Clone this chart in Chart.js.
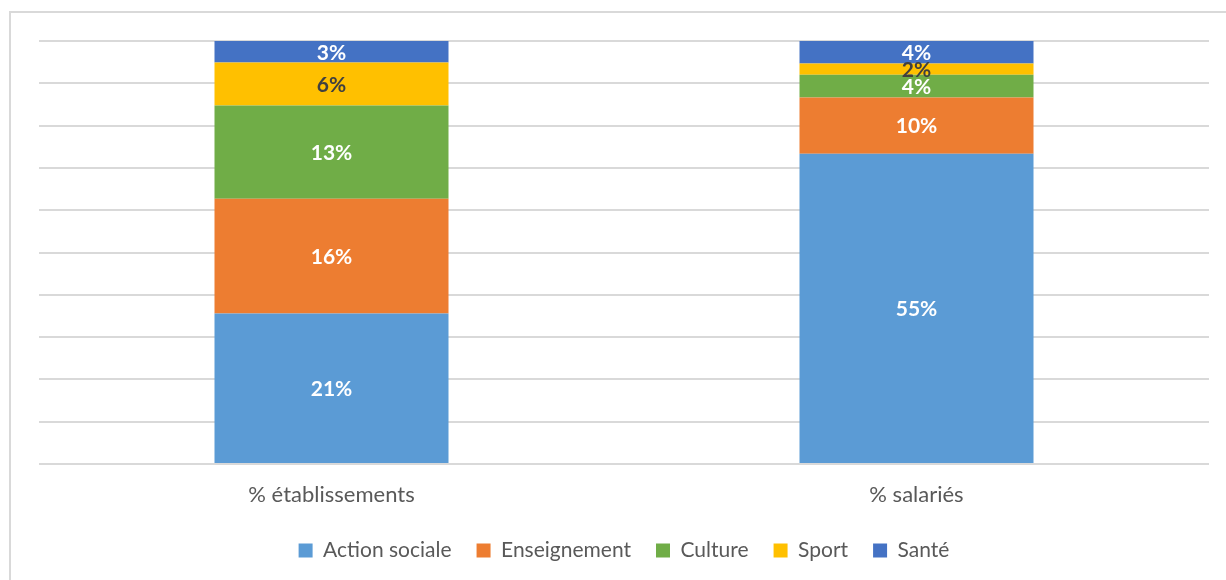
<!DOCTYPE html>
<html>
<head>
<meta charset="utf-8">
<script src="https://cdn.jsdelivr.net/npm/chart.js"></script>
<style>
  html, body { margin: 0; padding: 0; background: #fff; }
  #wrap { position: relative; width: 1226px; height: 580px; overflow: hidden; }
  #frame {
    position: absolute; left: 9px; top: 11px; width: 1300px; height: 700px;
    border-left: 2px solid #d9d9d9; border-top: 2px solid #d9d9d9;
    pointer-events: none;
  }
  canvas { position: absolute; left: 0; top: 0; }
</style>
</head>
<body>
<div id="wrap">
  <div id="frame"></div>
  <canvas id="graphique" width="1226" height="580"></canvas>
</div>
<script>
// categories et parts (%) par secteur
const categories = ['% établissements', '% salariés'];
const actionSociale = [21, 55];
const enseignement = [16, 10];
const culture = [13, 4];
const sport = [6, 2];
const sante = [3, 4];

const secteurs = [
  { nom: 'Action sociale', valeurs: actionSociale, couleur: '#5B9BD5', texte: '#ffffff' },
  { nom: 'Enseignement', valeurs: enseignement, couleur: '#ED7D31', texte: '#ffffff' },
  { nom: 'Culture', valeurs: culture, couleur: '#70AD47', texte: '#ffffff' },
  { nom: 'Sport', valeurs: sport, couleur: '#FFC000', texte: '#404040' },
  { nom: 'Santé', valeurs: sante, couleur: '#4472C4', texte: '#ffffff' }
];

// total par colonne -> empilement à 100 %
const totaux = categories.map((c, i) => secteurs.reduce((s, sec) => s + sec.valeurs[i], 0));

const police = 'Lato, "Open Sans", sans-serif';

// étiquettes au centre de chaque segment
const etiquettes = {
  id: 'etiquettes',
  afterDatasetsDraw(chart) {
    const ctx = chart.ctx;
    ctx.save();
    ctx.font = 'bold 21px ' + police;
    ctx.textAlign = 'center';
    ctx.textBaseline = 'middle';
    chart.data.datasets.forEach((ds, d) => {
      chart.getDatasetMeta(d).data.forEach((bar, i) => {
        ctx.fillStyle = ds.couleurTexte;
        ctx.fillText(ds.brut[i] + '%', bar.x, (bar.y + bar.base) / 2 + 1);
      });
    });
    ctx.restore();
  }
};

new Chart(document.getElementById('graphique'), {
  type: 'bar',
  data: {
    labels: categories,
    datasets: secteurs.map(sec => ({
      label: sec.nom,
      data: sec.valeurs.map((v, i) => v / totaux[i] * 100),
      brut: sec.valeurs,
      couleurTexte: sec.texte,
      backgroundColor: sec.couleur,
      borderWidth: 0,
      categoryPercentage: 1,
      barPercentage: 0.4
    }))
  },
  options: {
    responsive: false,
    animation: false,
    layout: { padding: { left: 39, right: 17, top: 41, bottom: 9 } },
    plugins: {
      tooltip: { enabled: false },
      legend: {
        position: 'bottom',
        labels: {
          boxWidth: 14,
          boxHeight: 14,
          padding: 25,
          color: '#595959',
          font: { family: police, size: 21 }
        }
      }
    },
    scales: {
      x: {
        stacked: true,
        grid: { display: false, drawTicks: false },
        border: { display: false },
        ticks: { color: '#595959', padding: 18, font: { family: police, size: 22 } },
        afterFit(scale) { scale.height = 51; }
      },
      y: {
        stacked: true,
        min: 0,
        max: 100,
        ticks: { display: false, stepSize: 10 },
        grid: { color: '#d9d9d9', lineWidth: 2, drawTicks: false },
        border: { display: false }
      }
    }
  },
  plugins: [etiquettes]
});
</script>
</body>
</html>
